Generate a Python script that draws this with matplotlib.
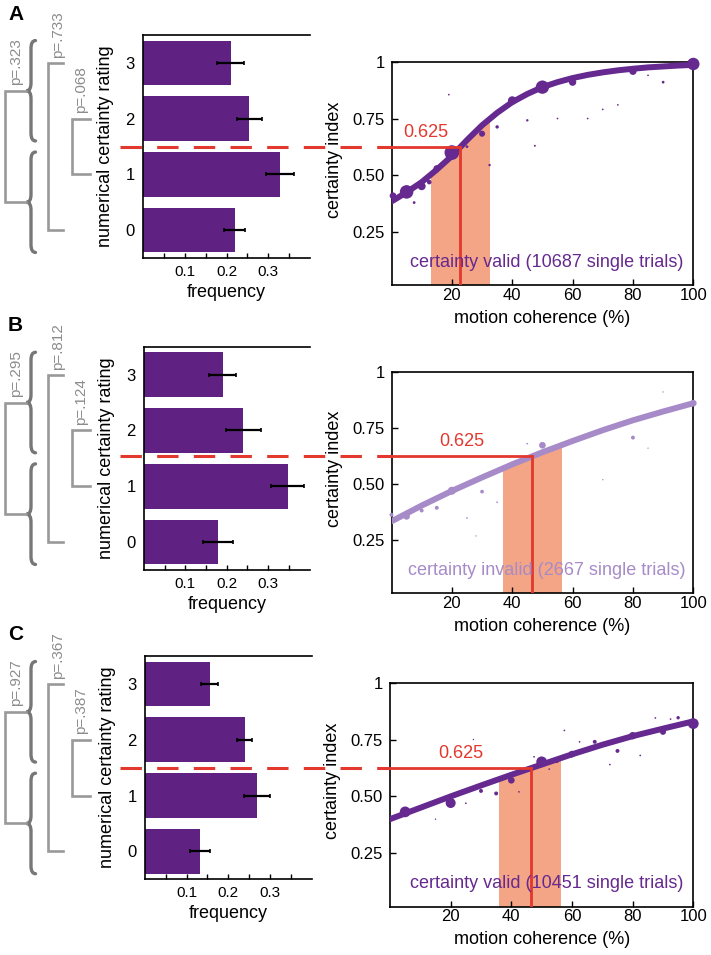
import matplotlib
matplotlib.use("Agg")
import matplotlib.pyplot as plt
import numpy as np
from matplotlib.path import Path
from matplotlib.patches import PathPatch
from matplotlib.transforms import blended_transform_factory

plt.rcParams['font.family'] = ['Liberation Sans', 'DejaVu Sans']

# ---- data ----
ratings = [0, 1, 2, 3]
rating_labels = ['0', '1', '2', '3']

freq_a = [0.22, 0.328, 0.254, 0.21]
err_a = [0.025, 0.033, 0.030, 0.032]
freq_b = [0.179, 0.347, 0.24, 0.19]
err_b = [0.036, 0.040, 0.043, 0.032]
freq_c = [0.132, 0.27, 0.24, 0.155]
err_c = [0.025, 0.031, 0.018, 0.020]

# p-values: braces (3+2 vs 1+0), 3 vs 0, 2 vs 1
p_a = ['p=.323', 'p=.733', 'p=.068']
p_b = ['p=.295', 'p=.812', 'p=.124']
p_c = ['p=.927', 'p=.367', 'p=.387']

# fitted curves
curve_x_a = [0, 5, 10, 15, 20, 25, 30, 35, 40, 45, 50, 55, 60, 65, 70, 75, 80, 85, 90, 95, 100]
curve_y_a = [0.385, 0.425, 0.47, 0.525, 0.585, 0.655, 0.72, 0.775, 0.822, 0.858, 0.888,
             0.91, 0.928, 0.942, 0.953, 0.962, 0.969, 0.975, 0.979, 0.983, 0.986]
curve_x_b = [0, 10, 20, 30, 40, 50, 60, 70, 80, 90, 100]
curve_y_b = [0.335, 0.405, 0.47, 0.53, 0.588, 0.642, 0.692, 0.74, 0.784, 0.823, 0.86]
curve_x_c = [0, 10, 20, 30, 40, 50, 60, 70, 80, 90, 100]
curve_y_c = [0.40, 0.45, 0.50, 0.548, 0.595, 0.64, 0.685, 0.727, 0.765, 0.798, 0.83]

# single-condition means (x coherence, y certainty index, w = marker area ~ trial count)
dots_x_a = [0.5, 5, 7.5, 10, 12.5, 15, 20, 25, 30, 32.5, 35, 40, 45, 47.5, 50, 55, 60, 65, 70, 75, 80, 85, 90, 100, 19]
dots_y_a = [0.41, 0.427, 0.38, 0.452, 0.47, 0.53, 0.60, 0.626, 0.683, 0.545, 0.713, 0.829, 0.742, 0.63,
            0.888, 0.75, 0.91, 0.75, 0.79, 0.81, 0.958, 0.94, 0.91, 0.99, 0.855]
dots_w_a = [23, 95, 4, 33, 11, 23, 112, 4, 19, 3, 6, 38, 3, 2, 92, 1.5, 28, 1.5, 1.5, 1.5, 28, 1.5, 4, 80, 1.5]

dots_x_b = [0, 5, 10, 15, 20, 25, 28, 30, 35, 40, 45, 50, 60, 70, 80, 85, 90, 100]
dots_y_b = [0.364, 0.357, 0.383, 0.395, 0.471, 0.35, 0.27, 0.467, 0.42, 0.592, 0.68, 0.673,
            0.70, 0.52, 0.707, 0.66, 0.91, 0.86]
dots_w_b = [8, 23, 8, 8, 33, 1.5, 1, 7, 1.5, 8, 1.5, 23, 1.5, 1, 8, 1, 1, 23]

dots_x_c = [5, 15, 20, 25, 27.5, 30, 35, 40, 42.5, 47.5, 50, 52.5, 55, 57.5, 60, 62.5, 65, 67.5,
            70, 72.5, 75, 80, 82.5, 87.5, 90, 92.5, 95, 100]
dots_y_c = [0.432, 0.40, 0.471, 0.47, 0.75, 0.524, 0.513, 0.571, 0.52, 0.674, 0.652, 0.62, 0.655,
            0.79, 0.686, 0.74, 0.707, 0.74, 0.726, 0.64, 0.70, 0.767, 0.68, 0.845, 0.784, 0.84, 0.846, 0.82]
dots_w_c = [60, 1, 52, 1.5, 1, 8, 8, 23, 1.5, 1.5, 60, 1.5, 8, 1.5, 23, 1.5, 8, 8,
            8, 1.5, 8, 28, 1.5, 1.5, 19, 1.5, 6, 60]

threshold = 0.625
cross_a, shade_a = 22.6, (13.1, 32.6)
cross_b, shade_b = 46.6, (36.8, 56.4)
cross_c, shade_c = 46.4, (35.9, 56.4)

label_a = 'certainty valid (10687 single trials)'
label_b = 'certainty invalid (2667 single trials)'
label_c = 'certainty valid (10451 single trials)'

# ---- style ----
W, H = 711, 955
bar_col = '#5f2282'
dark_purple = '#66298f'
light_purple = '#a68bc8'
red = '#e2382e'
shade_col = '#f4a586'
gray_line = '#999999'
gray_brace = '#777777'
gray_text = '#8c8c8c'

fig = plt.figure(figsize=(W / 100, H / 100), dpi=100)


def px_axes(x0, y0, x1, y1):
    return fig.add_axes([x0 / W, 1 - y1 / H, (x1 - x0) / W, (y1 - y0) / H])


def brace(trans, y0, y1, xt, xb, xe, d=0.14):
    ym = (y0 + y1) / 2
    verts = [(xe, y1), (xb, y1), (xb, y1 - d), (xb, ym + d), (xb, ym), (xt, ym),
             (xb, ym), (xb, ym - d), (xb, y0 + d), (xb, y0), (xe, y0)]
    codes = [Path.MOVETO, Path.CURVE3, Path.CURVE3, Path.LINETO, Path.CURVE3, Path.CURVE3,
             Path.CURVE3, Path.CURVE3, Path.LINETO, Path.CURVE3, Path.CURVE3]
    return PathPatch(Path(verts, codes), transform=trans, fill=False,
                     edgecolor=gray_brace, lw=2.4, clip_on=False, capstyle='round')


def bar_panel(rect, freq, err, pvals, letter):
    ax = px_axes(*rect)
    ax.barh(ratings, freq, height=0.8, color=bar_col, zorder=2)
    ax.errorbar(freq, ratings, xerr=err, fmt='none', ecolor='black', elinewidth=1.6,
                capsize=1.5, capthick=1.2, zorder=3)
    ax.set_xlim(0, 0.4)
    ax.set_ylim(-0.5, 3.5)
    ax.set_xticks([0.1, 0.2, 0.3])
    ax.set_xticklabels(['0.1', '0.2', '0.3'])
    ax.set_xticks([0.05, 0.15, 0.25, 0.35], minor=True)
    ax.tick_params(axis='x', which='both', direction='in', length=3.5, width=1, labelsize=11, pad=5)
    ax.set_yticks(ratings)
    ax.set_yticklabels(rating_labels)
    ax.tick_params(axis='y', length=0, labelsize=12, pad=6)
    ax.spines['right'].set_visible(False)
    for s in ['left', 'bottom', 'top']:
        ax.spines[s].set_linewidth(1.2)
    ax.set_xlabel('frequency', fontsize=13)
    ax.xaxis.set_label_coords(0.5, -0.115)
    ax.set_ylabel('numerical certainty rating', fontsize=13)
    ax.yaxis.set_label_coords(-0.175, 0.5)

    tr = blended_transform_factory(fig.transFigure, ax.transData)
    f = lambda p: p / W
    # braces around 3+2 and 1+0
    ax.add_patch(brace(tr, 1.6, 3.4, f(26.5), f(31), f(35.5)))
    ax.add_patch(brace(tr, -0.4, 1.4, f(26.5), f(31), f(35.5)))
    # brackets
    for (xv, xe, ya, yb) in [(5, 26, 2.5, 0.5), (48, 63, 3, 0), (72, 90, 2, 1)]:
        ax.plot([f(xe), f(xv), f(xv), f(xe)], [ya, ya, yb, yb], color=gray_line, lw=1.9,
                transform=tr, clip_on=False, solid_joinstyle='miter')
    for txt, xc, yb in zip(pvals, [16.5, 58, 81.5], [2.6, 3.08, 2.1]):
        ax.text(f(xc), yb, txt, transform=tr, rotation=90, ha='center', va='bottom',
                fontsize=11, color=gray_text)
    fig.text(8 / W, 1 - (rect[1] - 21) / H, letter, fontsize=15, fontweight='bold', va='center')
    return ax


def curve_panel(rect, cx, cy, dx, dy, dw, col, cross, shade, label):
    ax = px_axes(*rect)
    ax.set_xlim(0, 100)
    ax.set_ylim(0.015, 1)
    poly = ax.fill_between(cx, 0, cy, color='none', lw=0)
    span = ax.axvspan(shade[0], shade[1], color=shade_col, lw=0, zorder=1)
    span.set_clip_path(poly.get_paths()[0], poly.get_transform())
    ax.plot(cx, cy, color=col, lw=4.3, solid_capstyle='round', zorder=3)
    ax.scatter(dx, dy, s=dw, color=col, lw=0, zorder=4, clip_on=False)
    ax.plot([0, cross], [threshold, threshold], color=red, lw=2, zorder=5)
    ax.plot([cross, cross], [0, threshold], color=red, lw=2, zorder=5)
    ax.text(cross / 2, 0.69, '0.625', color=red, fontsize=13, ha='center', va='center')
    ax.text(51.5, 0.117, label, color=col, fontsize=13, ha='center', va='center', zorder=6)
    ax.set_xticks([20, 40, 60, 80, 100])
    ax.set_yticks([0.25, 0.5, 0.75, 1])
    ax.set_yticklabels(['0.25', '0.50', '0.75', '1'])
    ax.tick_params(direction='in', length=4, width=1, labelsize=12)
    ax.tick_params(axis='x', pad=2)
    ax.tick_params(axis='y', pad=5)
    for s in ax.spines.values():
        s.set_linewidth(1.2)
    ax.set_xlabel('motion coherence (%)', fontsize=13)
    ax.xaxis.set_label_coords(0.5, -0.11)
    ax.set_ylabel('certainty index', fontsize=13)
    ax.yaxis.set_label_coords(-0.16, 0.56)
    return ax


rows = [
    ((143, 35, 310, 258), (391.5, 61.7, 693.3, 285.5), freq_a, err_a, p_a, 'A',
     curve_x_a, curve_y_a, dots_x_a, dots_y_a, dots_w_a, dark_purple, cross_a, shade_a, label_a),
    ((144, 346.7, 309.5, 570), (391.5, 371.7, 693.3, 593.3), freq_b, err_b, p_b, 'B',
     curve_x_b, curve_y_b, dots_x_b, dots_y_b, dots_w_b, light_purple, cross_b, shade_b, label_b),
    ((145, 656, 311.5, 879.3), (390, 682.7, 693.3, 906.7), freq_c, err_c, p_c, 'C',
     curve_x_c, curve_y_c, dots_x_c, dots_y_c, dots_w_c, dark_purple, cross_c, shade_c, label_c),
]

for (brect, crect, fr, er, pv, let, cx, cy, dx, dy, dw, col, cr, sh, lab) in rows:
    bax = bar_panel(brect, fr, er, pv, let)
    cax = curve_panel(crect, cx, cy, dx, dy, dw, col, cr, sh, lab)
    # dashed red line linking rating 1.5 to the 0.625 threshold
    ypix = crect[1] + (1 - threshold) / (1 - 0.015) * (crect[3] - crect[1])
    yf = 1 - ypix / H
    fig.add_artist(plt.Line2D([120 / W, crect[0] / W], [yf, yf], color=red, lw=2.2,
                              dashes=(7, 5), transform=fig.transFigure, zorder=10))

fig.savefig('out.png', dpi=100)
